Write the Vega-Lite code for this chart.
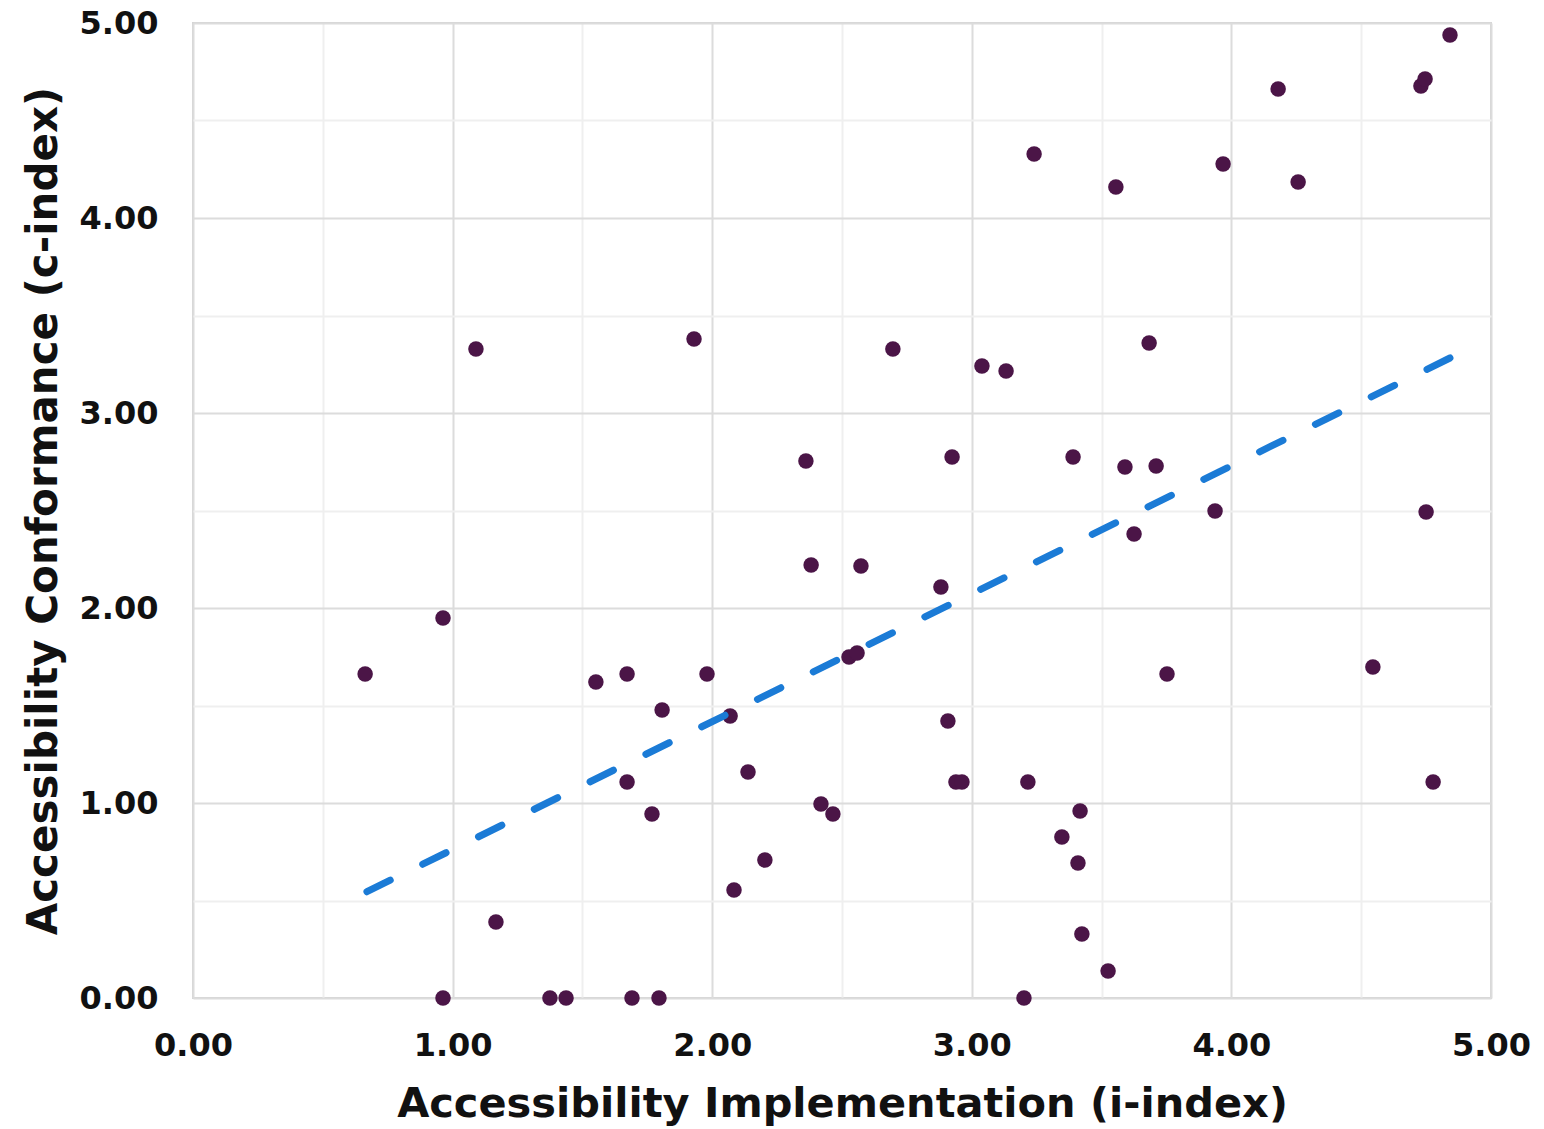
{
  "$schema": "https://vega.github.io/schema/vega-lite/v6.json",
  "width": 1298,
  "height": 975,
  "autosize": {"type": "none"},
  "padding": {"left": 193, "top": 23, "right": 53, "bottom": 131},
  "background": "white",
  "config": {
    "view": {"stroke": "#d4d4d4", "strokeWidth": 2},
    "font": "DejaVu Sans"
  },
  "datasets": {
    "points": [
      {"i": 0.663, "c": 1.662}, {"i": 0.963, "c": 1.949}, {"i": 1.090, "c": 3.328}, {"i": 0.963, "c": 0},
      {"i": 1.167, "c": 0.390}, {"i": 1.375, "c": 0}, {"i": 1.437, "c": 0}, {"i": 1.552, "c": 1.621},
      {"i": 1.672, "c": 1.662}, {"i": 1.672, "c": 1.108}, {"i": 1.691, "c": 0}, {"i": 1.768, "c": 0.944},
      {"i": 1.807, "c": 1.477}, {"i": 1.795, "c": 0}, {"i": 1.930, "c": 3.379}, {"i": 1.980, "c": 1.662},
      {"i": 2.069, "c": 1.446}, {"i": 2.084, "c": 0.554}, {"i": 2.138, "c": 1.159}, {"i": 2.203, "c": 0.708},
      {"i": 2.361, "c": 2.754}, {"i": 2.381, "c": 2.221}, {"i": 2.419, "c": 0.995}, {"i": 2.465, "c": 0.944},
      {"i": 2.527, "c": 1.749}, {"i": 2.558, "c": 1.769}, {"i": 2.573, "c": 2.215}, {"i": 2.696, "c": 3.328},
      {"i": 2.881, "c": 2.108}, {"i": 2.908, "c": 1.421}, {"i": 2.924, "c": 2.774}, {"i": 2.939, "c": 1.108},
      {"i": 2.962, "c": 1.108}, {"i": 3.039, "c": 3.241}, {"i": 3.132, "c": 3.215}, {"i": 3.201, "c": 0},
      {"i": 3.216, "c": 1.108}, {"i": 3.240, "c": 4.328}, {"i": 3.347, "c": 0.826}, {"i": 3.390, "c": 2.774},
      {"i": 3.409, "c": 0.692}, {"i": 3.417, "c": 0.959}, {"i": 3.424, "c": 0.328}, {"i": 3.525, "c": 0.138},
      {"i": 3.555, "c": 4.159}, {"i": 3.590, "c": 2.723}, {"i": 3.625, "c": 2.379}, {"i": 3.683, "c": 3.359},
      {"i": 3.710, "c": 2.728}, {"i": 3.752, "c": 1.662}, {"i": 3.937, "c": 2.497}, {"i": 3.968, "c": 4.277},
      {"i": 4.180, "c": 4.662}, {"i": 4.257, "c": 4.185}, {"i": 4.545, "c": 1.697}, {"i": 4.730, "c": 4.677},
      {"i": 4.746, "c": 4.713}, {"i": 4.750, "c": 2.492}, {"i": 4.777, "c": 1.108}, {"i": 4.842, "c": 4.938}
    ],
    "trend": [
      {"i": 0.67, "c": 0.545},
      {"i": 4.842, "c": 3.282}
    ]
  },
  "layer": [
    {
      "data": {"name": "points"},
      "mark": {"type": "circle", "color": "#4b1547", "opacity": 1, "size": 240},
      "encoding": {
        "x": {
          "field": "i", "type": "quantitative",
          "scale": {"domain": [0, 5], "nice": false, "zero": false},
          "axis": {
            "title": "Accessibility Implementation (i-index)",
            "titleFont": "DejaVu Sans", "titleFontSize": 41.5, "titleFontWeight": "bold", "titleColor": "#111111",
            "titlePadding": 22,
            "values": [0, 0.5, 1, 1.5, 2, 2.5, 3, 3.5, 4, 4.5, 5],
            "format": ".2f",
            "labelExpr": "datum.value % 1 === 0 ? datum.label : ''",
            "labelFont": "DejaVu Sans", "labelFontSize": 32, "labelFontWeight": "bold", "labelColor": "#111111",
            "labelPadding": 32, "labelFlush": false, "labelOverlap": false,
            "ticks": false, "domain": false,
            "grid": true, "gridWidth": 2,
            "gridColor": {"condition": {"test": "datum.value % 1 === 0", "value": "#dcdcdc"}, "value": "#efefef"}
          }
        },
        "y": {
          "field": "c", "type": "quantitative",
          "scale": {"domain": [0, 5], "nice": false, "zero": false},
          "axis": {
            "title": "Accessibility Conformance (c-index)",
            "titleFont": "DejaVu Sans", "titleFontSize": 42, "titleFontWeight": "bold", "titleColor": "#111111",
            "titlePadding": 14,
            "values": [0, 0.5, 1, 1.5, 2, 2.5, 3, 3.5, 4, 4.5, 5],
            "format": ".2f",
            "labelExpr": "datum.value % 1 === 0 ? datum.label : ''",
            "labelFont": "DejaVu Sans", "labelFontSize": 32, "labelFontWeight": "bold", "labelColor": "#111111",
            "labelPadding": 35, "labelFlush": false, "labelOverlap": false,
            "ticks": false, "domain": false,
            "grid": true, "gridWidth": 2,
            "gridColor": {"condition": {"test": "datum.value % 1 === 0", "value": "#dcdcdc"}, "value": "#efefef"}
          }
        }
      }
    },
    {
      "data": {"name": "trend"},
      "mark": {"type": "line", "color": "#1b7bd6", "strokeWidth": 7, "strokeDash": [26, 36.2], "strokeCap": "round"},
      "encoding": {
        "x": {"field": "i", "type": "quantitative"},
        "y": {"field": "c", "type": "quantitative"}
      }
    }
  ]
}
